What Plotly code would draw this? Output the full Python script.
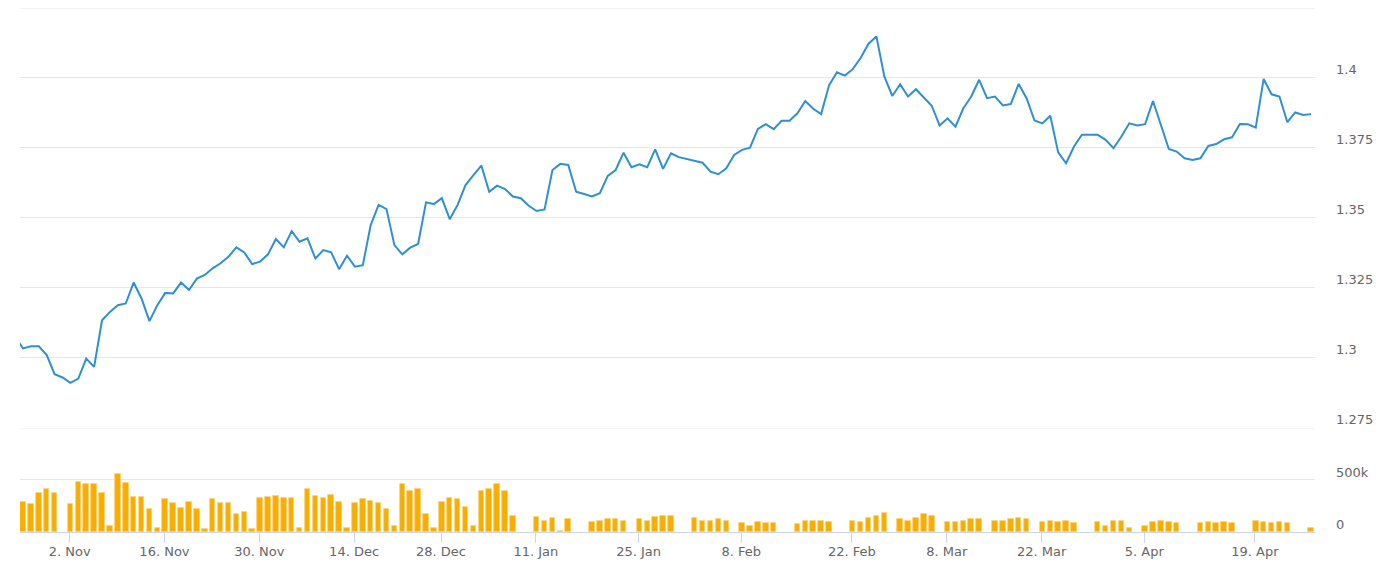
import plotly.graph_objects as go

# Trading slots (ordinal positions, as on the original stock chart's ordinal x axis)
close = [
    1.3075, 1.3031, 1.3039, 1.3039, 1.3007, 1.2939, 1.2927, 1.2908, 1.2923, 1.2995,
    1.2965, 1.3132, 1.3162, 1.3186, 1.3192, 1.3267, 1.3210, 1.3129, 1.3186, 1.3230,
    1.3228, 1.3267, 1.3240, 1.3281, 1.3294, 1.3318, 1.3336, 1.3359, 1.3393, 1.3375,
    1.3333, 1.3342, 1.3368, 1.3423, 1.3393, 1.3451, 1.3413, 1.3425, 1.3353, 1.3383,
    1.3375, 1.3315, 1.3363, 1.3324, 1.3329, 1.3473, 1.3545, 1.3530, 1.3401, 1.3368,
    1.3392, 1.3405, 1.3554, 1.3548, 1.3569, 1.3494, 1.3545, 1.3616, 1.3652, 1.3686,
    1.3592, 1.3614, 1.3602, 1.3575, 1.3569, 1.3542, 1.3523, 1.3529, 1.3670, 1.3692,
    1.3688, 1.3592, 1.3584, 1.3575, 1.3587, 1.3649, 1.3670, 1.3732, 1.3680, 1.3690,
    1.3680, 1.3744, 1.3674, 1.3730, 1.3716, 1.3709, 1.3702, 1.3696, 1.3664, 1.3655,
    1.3676, 1.3724, 1.3742, 1.3750, 1.3817, 1.3834, 1.3816, 1.3846, 1.3846, 1.3873,
    1.3917, 1.3889, 1.3870, 1.3973, 1.4020, 1.4008, 1.4031, 1.4071, 1.4122, 1.4148,
    1.4005, 1.3935, 1.3977, 1.3933, 1.3959, 1.3931, 1.3900, 1.3829, 1.3855, 1.3825,
    1.3891, 1.3933, 1.3993, 1.3927, 1.3933, 1.3901, 1.3906, 1.3978, 1.3927, 1.3847,
    1.3837, 1.3864, 1.3733, 1.3694, 1.3754, 1.3796, 1.3796, 1.3796, 1.3778, 1.3748,
    1.3790, 1.3837, 1.3829, 1.3834, 1.3917, 1.3831, 1.3745, 1.3736, 1.3712, 1.3706,
    1.3712, 1.3756, 1.3763, 1.3780, 1.3787, 1.3835, 1.3834, 1.3822, 1.3996, 1.3941,
    1.3933, 1.3841, 1.3876, 1.3867, 1.3870,
]

# Volume in thousands (None = no bar)
volume_k = [
    None, 288, 266, 372, 410, 372, None, 266, 481, 458,
    458, 372, 61, 555, 468, 337, 337, 218, 35, 314,
    276, 228, 288, 218, 26, 314, 276, 276, 170, 192,
    26, 324, 337, 349, 324, 324, 35, 410, 349, 324,
    359, 288, 35, 276, 314, 301, 276, 218, 61, 458,
    397, 410, 170, 35, 288, 324, 314, 240, 61, 397,
    410, 458, 397, 157, None, None, 144, 109, 131, 13,
    122, None, None, 96, 109, 122, 122, 109, None, 122,
    109, 144, 157, 157, None, None, 131, 109, 109, 122,
    109, None, 83, 61, 96, 83, 83, None, None, 74,
    109, 109, 109, 96, None, None, 109, 96, 131, 157,
    179, None, 122, 109, 131, 170, 157, None, 96, 96,
    109, 122, 122, None, 109, 109, 122, 131, 122, None,
    96, 109, 96, 109, 83, None, None, 96, 61, 109,
    109, 35, None, 61, 96, 109, 96, 83, None, None,
    83, 96, 83, 96, 83, None, None, 109, 96, 83,
    96, 83, None, None, 35,
]

tick_slots = [7, 19, 31, 43, 54, 66, 79, 92, 106, 118, 130, 143, 157]
tick_labels = ["2. Nov", "16. Nov", "30. Nov", "14. Dec", "28. Dec", "11. Jan",
               "25. Jan", "8. Feb", "22. Feb", "8. Mar", "22. Mar", "5. Apr", "19. Apr"]

price_ticks = [1.275, 1.3, 1.325, 1.35, 1.375, 1.4, 1.425]
price_tick_text = ["1.275", "1.3", "1.325", "1.35", "1.375", "1.4", ""]
vol_ticks = [0, 500000, 1000000]
vol_tick_text = ["0", "500k", ""]

slots = list(range(len(close)))
volume = [None if v is None else v * 1000 for v in volume_k]

FONT = dict(family="DejaVu Sans", size=13, color="#666666")
GRID = "#e6e6e6"

fig = go.Figure()
fig.add_trace(go.Scatter(
    x=slots, y=close, mode="lines",
    line=dict(color="#2f8fd3", width=2),
    xaxis="x", yaxis="y", hoverinfo="skip", showlegend=False,
))
fig.add_trace(go.Bar(
    x=slots, y=volume, width=0.7,
    marker=dict(color="#f8ae00", line=dict(color="#fbd27a", width=0.8)),
    xaxis="x2", yaxis="y2", hoverinfo="skip", showlegend=False,
))

# gridlines at the very top of each pane (Plotly skips grid at range edges)
for yref, yval in (("y", price_ticks[-1]), ("y2", vol_ticks[-1])):
    fig.add_shape(type="line", xref="paper", x0=0, x1=1, yref=yref, y0=yval, y1=yval,
                  line=dict(color=GRID, width=1), layer="below")

xr = [0.62, 164.5]
fig.update_layout(
    width=1386, height=559,
    margin=dict(l=12, r=79, t=0, b=35),
    paper_bgcolor="white", plot_bgcolor="white",
    font=FONT,
    bargap=0,
    xaxis=dict(domain=[0, 1], range=xr, anchor="y", matches="x2",
               showticklabels=False, showgrid=False, zeroline=False, showline=False,
               ticks=""),
    xaxis2=dict(domain=[0, 1], range=xr, anchor="y2",
                tickmode="array", tickvals=[s - 0.1 for s in tick_slots], ticktext=tick_labels,
                ticks="outside", ticklen=10, tickcolor="#ccd6eb", tickwidth=1,
                showline=True, linecolor="#ccd6eb", linewidth=1,
                showgrid=False, zeroline=False, tickfont=FONT, ticklabelstandoff=-3),
    yaxis=dict(domain=[0.2005, 1], range=[1.275, 1.425], side="right", anchor="x",
               tickmode="array", tickvals=price_ticks, ticktext=price_tick_text,
               showgrid=True, gridcolor=GRID, gridwidth=1, zeroline=False,
               ticks="", ticklabelstandoff=20, ticklabelshift=-8, tickfont=FONT),
    yaxis2=dict(domain=[0, 0.1985], range=[0, 1000000], side="right", anchor="x2",
                tickmode="array", tickvals=vol_ticks, ticktext=vol_tick_text,
                showgrid=True, gridcolor=GRID, gridwidth=1, zeroline=False,
                ticks="", ticklabelstandoff=20, ticklabelshift=-8, tickfont=FONT),
)

fig.write_html("out.html")
